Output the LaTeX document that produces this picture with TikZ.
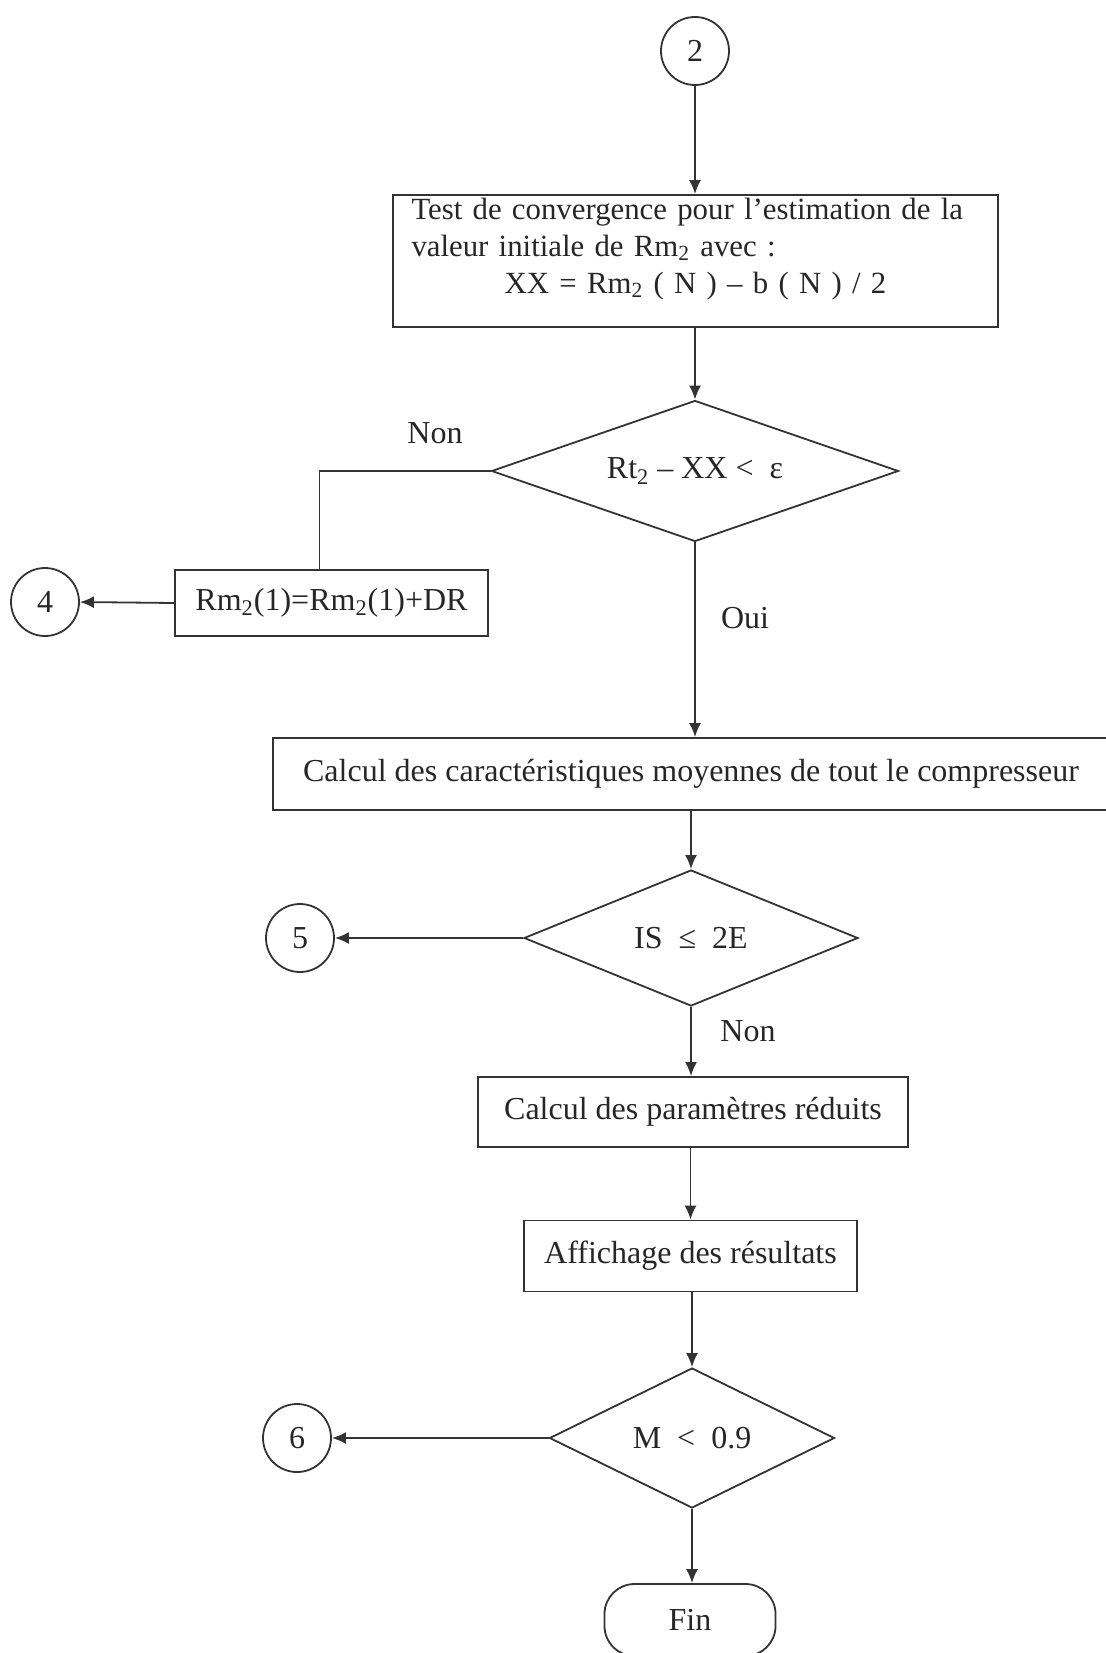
\documentclass[tikz,border=0pt]{standalone}
\usepackage{fontspec}
\setmainfont{Liberation Serif}
\usetikzlibrary{shapes.geometric,arrows.meta,positioning}

\begin{document}
\begin{tikzpicture}[x=0.5pt, y=-0.5pt, font=\fontsize{16}{18.5}\selectfont, text=black!85,
        boxnode/.style={rectangle, draw=black!80, line width=0.9pt, inner sep=0pt},
        decnode/.style={diamond, draw=black!80, line width=0.9pt, aspect=2.9, inner sep=0pt},
        connode/.style={circle, draw=black!80, line width=0.9pt, minimum size=34pt, inner sep=0pt},
        endnode/.style={rectangle, rounded corners=15pt, draw=black!80, line width=0.9pt, inner sep=0pt},
        textnode/.style={inner sep=0pt},
        line/.style={draw=black!80, line width=0.9pt},
        arrow/.style={line, -{Latex[length=7pt,width=6pt]}}]
    \useasboundingbox (0,0) rectangle (1106,1653);
    \node [connode] at (695,51) (c2) {2};
    \node [boxnode, minimum width=302.5pt, minimum height=66pt, text width=284pt, align=left,
           font=\fontsize{15.4}{18.3}\selectfont] at (695.5,261) (test)
        {Test de convergence pour l'estimation de la\\ valeur initiale de Rm\textsubscript{2} avec :\\ \makebox[\hsize]{XX = Rm\textsubscript{2} ( N ) – b ( N ) / 2}\par\vspace{12pt}};
    \node [decnode, minimum width=203.5pt, minimum height=70.5pt] at (695,471) (d1) {Rt\textsubscript{2} – XX <\ \ ε};
    \node [textnode] at (435,433) (non1) {Non};
    \node [boxnode, minimum width=156.5pt, minimum height=33pt] at (331.5,603) (incr) {Rm\textsubscript{2}(1)=Rm\textsubscript{2}(1)+DR};
    \node [connode] at (45,602) (c4) {4};
    \node [textnode] at (745,618) (oui) {Oui};
    \node [boxnode, minimum width=418pt, minimum height=36pt] at (691,774) (calc) {Calcul des caractéristiques moyennes de tout le compresseur};
    \node [decnode, minimum width=167pt, minimum height=68pt] at (691,938) (d2) {IS \ ≤ \ 2E};
    \node [connode] at (300,938) (c5) {5};
    \node [textnode] at (748,1031) (non2) {Non};
    \node [boxnode, minimum width=215pt, minimum height=35pt] at (693,1112) (red) {Calcul des paramètres réduits};
    \node [boxnode, minimum width=166.5pt, minimum height=35.5pt] at (690.5,1256) (aff) {Affichage des résultats};
    \node [decnode, minimum width=142.5pt, minimum height=70pt] at (692,1438) (d3) {M \ < \ 0.9};
    \node [connode] at (297,1438) (c6) {6};
    \node [endnode, minimum width=85.5pt, minimum height=36pt] at (690,1620) (fin) {Fin};
    \draw [arrow] (c2) -- (c2 |- test.north);
    \draw [arrow] (test.south -| d1) -- (d1.north);
    \draw [line] (d1.west) -| ([xshift=-6pt]incr.north);
    \draw [arrow] (incr.west) -- (c4.east);
    \draw [arrow] (d1.south) -- (d1.south |- calc.north);
    \draw [arrow] (calc.south -| d2) -- (d2.north);
    \draw [arrow] (d2.west) -- (c5.east);
    \draw [arrow] (d2.south) -- (d2.south |- red.north);
    \draw [arrow] (red.south -| aff) -- (aff.north);
    \draw [arrow] (aff.south -| d3) -- (d3.north);
    \draw [arrow] (d3.west) -- (c6.east);
    \draw [arrow] (d3.south) -- (d3.south |- fin.north);
\end{tikzpicture}
\end{document}
